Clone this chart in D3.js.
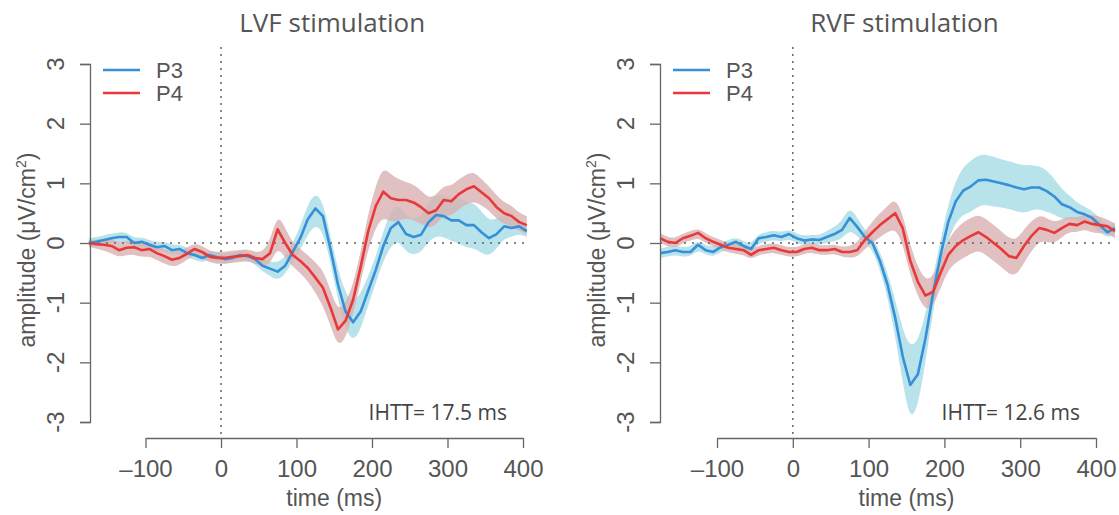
<!DOCTYPE html>
<html>
<head>
<meta charset="utf-8">
<script src="https://cdn.jsdelivr.net/npm/d3@7"></script>
<style>
  body { margin: 0; background: #fff; }
  svg { display: block; }
</style>
</head>
<body>
<div id="chart-area"></div>
<script>
// datos (amplitud en uV/cm2, tiempo en ms)
const yTicks = [-3, -2, -1, 0, 1, 2, 3];
const xTicks = [-100, 0, 100, 200, 300, 400];
const xTickLabels = ["\u2013100", "0", "100", "200", "300", "400"];
const seriesNames = ["P3", "P4"];
const panelTitles = ["LVF stimulation", "RVF stimulation"];
const ihttLabels = ["IHTT= 17.5 ms", "IHTT= 12.6 ms"];

// panel izquierdo: -175 .. 405 cada 10 ms
const timeL = d3.range(-175, 406, 10);
const p3L = [0, 0.02, 0.05, 0.08, 0.1, 0.1, 0.0, 0.02, -0.03, -0.07,
  -0.05, -0.12, -0.1, -0.17, -0.2, -0.25, -0.2, -0.24, -0.27, -0.25,
  -0.2, -0.22, -0.27, -0.38, -0.43, -0.48, -0.38, -0.15, 0.08, 0.4,
  0.58, 0.45, -0.1, -0.7, -1.15, -1.33, -1.15, -0.8, -0.45, -0.05,
  0.25, 0.35, 0.15, 0.1, 0.14, 0.35, 0.47, 0.45, 0.38, 0.38,
  0.3, 0.3, 0.18, 0.08, 0.15, 0.28, 0.25, 0.28, 0.2];
const p3LBand = [0.08, 0.08, 0.08, 0.08, 0.08, 0.08, 0.08, 0.08, 0.08, 0.08,
  0.08, 0.08, 0.08, 0.08, 0.08, 0.08, 0.08, 0.08, 0.08, 0.08,
  0.08, 0.08, 0.08, 0.1, 0.12, 0.15, 0.15, 0.15, 0.2, 0.25,
  0.27, 0.25, 0.22, 0.25, 0.3, 0.33, 0.3, 0.25, 0.22, 0.25,
  0.3, 0.3, 0.3, 0.3, 0.3, 0.32, 0.35, 0.35, 0.35, 0.38,
  0.38, 0.38, 0.35, 0.3, 0.25, 0.2, 0.15, 0.12, 0.1];
const p4L = [0, -0.02, -0.03, -0.05, -0.12, -0.08, -0.07, -0.12, -0.1, -0.17,
  -0.22, -0.28, -0.25, -0.18, -0.1, -0.15, -0.23, -0.25, -0.25, -0.23,
  -0.22, -0.2, -0.25, -0.27, -0.17, 0.23, 0.0, -0.2, -0.3, -0.42,
  -0.58, -0.75, -1.08, -1.45, -1.3, -0.95, -0.4, 0.2, 0.62, 0.86,
  0.75, 0.72, 0.72, 0.68, 0.6, 0.5, 0.55, 0.72, 0.7, 0.82,
  0.9, 0.95, 0.85, 0.75, 0.6, 0.5, 0.45, 0.35, 0.3];
const p4LBand = [0.05, 0.08, 0.1, 0.12, 0.12, 0.12, 0.12, 0.12, 0.12, 0.12,
  0.12, 0.12, 0.12, 0.1, 0.1, 0.1, 0.1, 0.1, 0.1, 0.1,
  0.1, 0.1, 0.1, 0.12, 0.2, 0.28, 0.25, 0.2, 0.2, 0.22,
  0.25, 0.3, 0.3, 0.3, 0.3, 0.25, 0.25, 0.3, 0.35, 0.42,
  0.4, 0.35, 0.3, 0.3, 0.28, 0.25, 0.25, 0.25, 0.25, 0.25,
  0.25, 0.25, 0.22, 0.2, 0.2, 0.18, 0.18, 0.15, 0.15];

// panel derecho: -175 .. 425 cada 10 ms
const timeR = d3.range(-175, 426, 10);
const p3R = [-0.17, -0.15, -0.12, -0.15, -0.15, -0.03, -0.12, -0.15, -0.07, -0.03,
  0.02, -0.05, -0.1, 0.08, 0.1, 0.13, 0.1, 0.15, 0.08, 0.04,
  0.06, 0.05, 0.1, 0.15, 0.22, 0.42, 0.27, 0.1, 0.0, -0.3,
  -0.7, -1.25, -1.9, -2.38, -2.2, -1.6, -0.85, -0.2, 0.35, 0.7,
  0.88, 0.95, 1.05, 1.06, 1.03, 1.0, 0.97, 0.93, 0.9, 0.93,
  0.93, 0.87, 0.78, 0.65, 0.6, 0.52, 0.48, 0.42, 0.3, 0.18, 0.25];
const p3RBand = [0.08, 0.08, 0.08, 0.08, 0.08, 0.08, 0.08, 0.08, 0.08, 0.08,
  0.08, 0.08, 0.08, 0.08, 0.08, 0.08, 0.08, 0.08, 0.08, 0.08,
  0.08, 0.08, 0.1, 0.12, 0.15, 0.2, 0.15, 0.12, 0.1, 0.15,
  0.2, 0.3, 0.45, 0.62, 0.55, 0.4, 0.3, 0.25, 0.3, 0.35,
  0.4, 0.43, 0.43, 0.42, 0.42, 0.4, 0.4, 0.4, 0.4, 0.38,
  0.36, 0.35, 0.3, 0.25, 0.2, 0.15, 0.13, 0.12, 0.12, 0.1, 0.1];
const p4R = [0.08, 0.02, 0.0, 0.08, 0.12, 0.17, 0.08, 0.02, -0.03, -0.08,
  -0.1, -0.12, -0.2, -0.12, -0.1, -0.08, -0.12, -0.15, -0.15, -0.1,
  -0.08, -0.12, -0.12, -0.1, -0.15, -0.15, -0.12, 0.05, 0.18, 0.3,
  0.4, 0.5, 0.25, -0.3, -0.65, -0.88, -0.82, -0.5, -0.2, -0.05,
  0.05, 0.12, 0.18, 0.1, 0.0, -0.1, -0.22, -0.25, -0.05, 0.12,
  0.25, 0.22, 0.17, 0.25, 0.32, 0.3, 0.36, 0.32, 0.3, 0.28, 0.2];
const p4RBand = [0.08, 0.08, 0.08, 0.08, 0.08, 0.08, 0.08, 0.08, 0.08, 0.08,
  0.08, 0.08, 0.08, 0.08, 0.08, 0.08, 0.08, 0.08, 0.08, 0.08,
  0.08, 0.08, 0.08, 0.08, 0.08, 0.1, 0.12, 0.15, 0.18, 0.2,
  0.22, 0.25, 0.25, 0.25, 0.25, 0.25, 0.25, 0.25, 0.25, 0.28,
  0.3, 0.3, 0.3, 0.3, 0.3, 0.3, 0.3, 0.3, 0.28, 0.25,
  0.22, 0.2, 0.18, 0.15, 0.13, 0.12, 0.13, 0.15, 0.14, 0.12, 0.12];

const width = 1119;
const height = 515;
const blue = "#3590d8";
const red = "#e8383a";
const blueBand = "#a6dce6";
const redBand = "#d8b0b0";
const gray = "#666";
const textGray = "#555";
const font = "Liberation Sans, Arial, sans-serif";

const svg = d3.select("#chart-area")
  .append("svg")
  .attr("width", width)
  .attr("height", height);

const panels = [
  { axisX: 90, xRange: [145.5, 523], time: timeL,
    series: [[p3L, p3LBand], [p4L, p4LBand]] },
  { axisX: 660, xRange: [717, 1096], time: timeR,
    series: [[p3R, p3RBand], [p4R, p4RBand]] }
];

const y = d3.scaleLinear().domain([-3, 3]).range([422, 64]);

panels.forEach((p, pi) => {
  const g = svg.append("g");
  const x = d3.scaleLinear().domain([-100, 400]).range(p.xRange);
  const colors = [blue, red];
  const bandColors = [blueBand, redBand];

  // bandas de error
  p.series.forEach(([vals, band], si) => {
    const pts = p.time.map((t, i) => ({ t: t, v: vals[i], w: band[i] }));
    const area = d3.area()
      .x(d => x(d.t))
      .y0(d => y(d.v - d.w))
      .y1(d => y(d.v + d.w))
      .curve(d3.curveBasis);
    g.append("path")
      .datum(pts)
      .attr("d", area)
      .attr("fill", bandColors[si])
      .attr("fill-opacity", 0.8);
  });

  // lineas de referencia punteadas
  g.append("line")
    .attr("x1", p.axisX).attr("x2", x(p.time[p.time.length - 1]))
    .attr("y1", y(0)).attr("y2", y(0))
    .attr("stroke", gray).attr("stroke-width", 1.5)
    .attr("stroke-dasharray", "2,6");
  g.append("line")
    .attr("x1", x(0)).attr("x2", x(0))
    .attr("y1", 47).attr("y2", 438)
    .attr("stroke", gray).attr("stroke-width", 1.5)
    .attr("stroke-dasharray", "2,5");

  // curvas
  p.series.forEach(([vals], si) => {
    const line = d3.line()
      .x((d, i) => x(p.time[i]))
      .y(d => y(d));
    g.append("path")
      .datum(vals)
      .attr("d", line)
      .attr("fill", "none")
      .attr("stroke", colors[si])
      .attr("stroke-width", 2.6)
      .attr("stroke-linejoin", "round");
  });

  // eje y
  const yAxis = g.append("g")
    .attr("transform", `translate(${p.axisX},0)`)
    .call(d3.axisLeft(y).tickValues(yTicks).tickSize(10).tickFormat(""));
  yAxis.select(".domain").attr("stroke", gray).attr("stroke-width", 1.3);
  yAxis.selectAll(".tick line").attr("stroke", gray).attr("stroke-width", 1.3);
  yTicks.forEach(t => {
    g.append("text")
      .attr("transform", `translate(${p.axisX - 26},${y(t)}) rotate(-90)`)
      .attr("text-anchor", "middle")
      .attr("font-family", font)
      .attr("font-size", 24)
      .attr("fill", textGray)
      .text(String(t));
  });
  g.append("text")
    .attr("transform", `translate(${p.axisX - 55},250) rotate(-90)`)
    .attr("text-anchor", "middle")
    .attr("font-family", font)
    .attr("font-size", 23)
    .attr("fill", textGray)
    .html("amplitude (\u03bcV/cm<tspan dy='-9' font-size='14'>2</tspan><tspan dy='9'>)</tspan>");

  // eje x
  const xAxis = g.append("g")
    .attr("transform", "translate(0,438)")
    .call(d3.axisBottom(x).tickValues(xTicks).tickSize(10).tickSizeOuter(0)
      .tickFormat((d, i) => xTickLabels[i]));
  xAxis.select(".domain").attr("stroke", gray).attr("stroke-width", 1.3);
  xAxis.selectAll(".tick line").attr("stroke", gray).attr("stroke-width", 1.3);
  xAxis.selectAll(".tick text")
    .attr("y", 39)
    .attr("dy", 0)
    .attr("font-family", font)
    .attr("font-size", 24)
    .attr("fill", textGray);
  g.append("text")
    .attr("x", x(150)).attr("y", 506)
    .attr("text-anchor", "middle")
    .attr("font-family", font)
    .attr("font-size", 23)
    .attr("fill", textGray)
    .text("time (ms)");

  // titulo
  g.append("text")
    .attr("x", x(150) - 2).attr("y", 32)
    .attr("text-anchor", "middle")
    .attr("font-family", "Open Sans, sans-serif")
    .attr("font-size", 26)
    .attr("fill", textGray)
    .text(panelTitles[pi]);

  // IHTT
  g.append("text")
    .attr("x", x(400) - 16).attr("y", 420)
    .attr("text-anchor", "end")
    .attr("font-family", "Open Sans, sans-serif")
    .attr("font-size", 21)
    .attr("fill", "#444")
    .text(ihttLabels[pi]);

  // leyenda
  seriesNames.forEach((name, si) => {
    const ly = 70 + si * 23;
    g.append("line")
      .attr("x1", p.axisX + 13).attr("x2", p.axisX + 50)
      .attr("y1", ly).attr("y2", ly)
      .attr("stroke", colors[si]).attr("stroke-width", 2.6);
    g.append("text")
      .attr("x", p.axisX + 66).attr("y", ly + 8)
      .attr("font-family", font)
      .attr("font-size", 22)
      .attr("fill", textGray)
      .text(name);
  });
});
</script>
</body>
</html>
